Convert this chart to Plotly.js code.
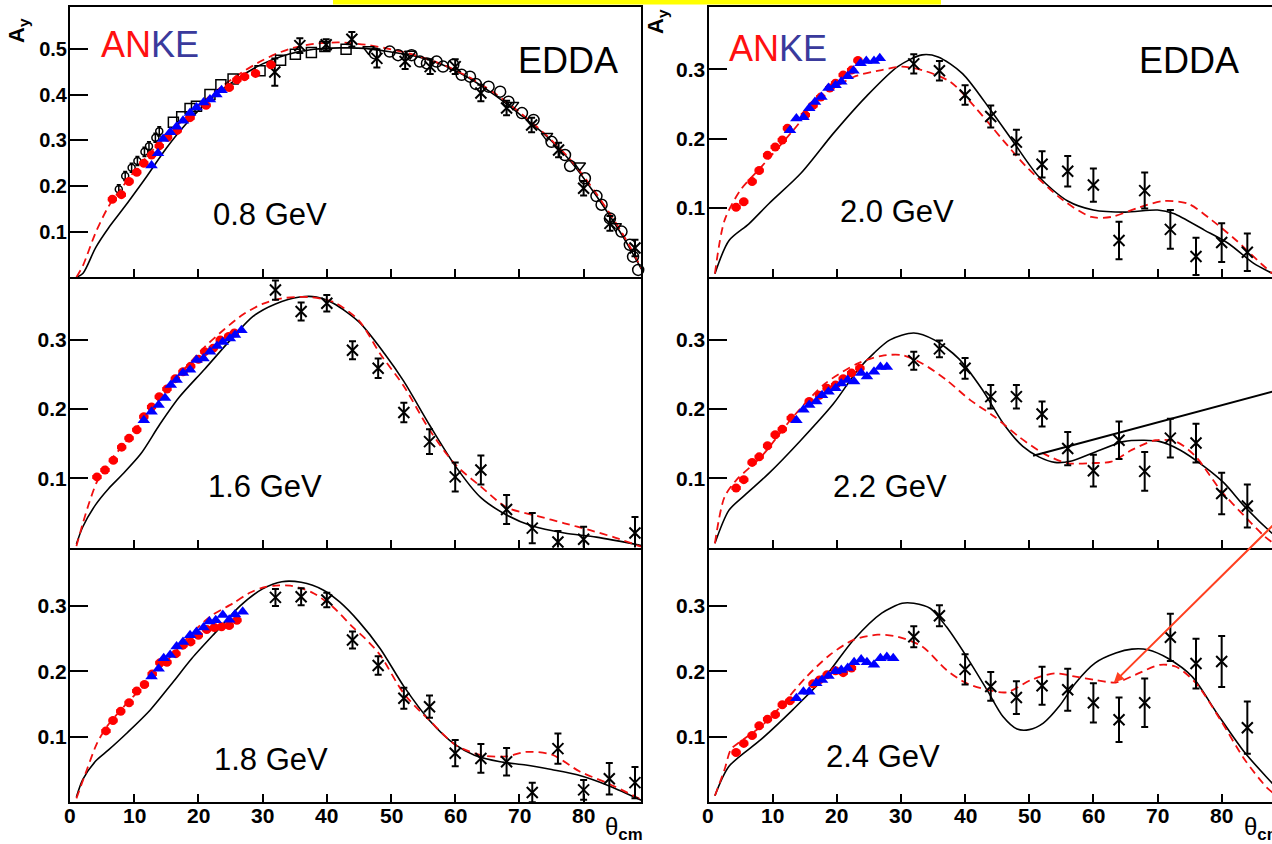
<!DOCTYPE html>
<html>
<head>
<meta charset="utf-8">
<script src="https://cdn.plot.ly/plotly-3.0.1.min.js"></script>
<style>
html, body { margin: 0; padding: 0; overflow: hidden; background: #fff; }
#chart { width: 1290px; height: 844px; }
</style>
</head>
<body>
<div id="chart"></div>
<script>
// ===== 0.8 GeV =====
const th08Solid = [1, 2, 4, 6, 8, 10, 12, 15, 18, 22, 26, 30, 34, 38, 42, 46, 50, 54, 58, 62, 66, 70, 74, 78, 82, 86, 89];
const ay08Solid = [0, 0.008, 0.065, 0.108, 0.145, 0.183, 0.222, 0.283, 0.335, 0.392, 0.435, 0.468, 0.489, 0.5, 0.503, 0.502, 0.494, 0.484, 0.466, 0.438, 0.401, 0.358, 0.312, 0.254, 0.178, 0.092, 0.018];
const th08Dash = [1, 2, 4, 6, 8, 10, 12, 15, 18, 22, 26, 30, 34, 38, 42, 46, 50, 54, 58, 62, 66, 70, 74, 78, 82, 86, 89];
const ay08Dash = [0, 0.025, 0.098, 0.155, 0.195, 0.232, 0.265, 0.31, 0.35, 0.4, 0.442, 0.476, 0.5, 0.512, 0.515, 0.51, 0.5, 0.486, 0.467, 0.44, 0.405, 0.362, 0.314, 0.257, 0.183, 0.097, 0.02];
const th08Red = [6.6, 8.0, 9.2, 10.4, 11.5, 12.7, 13.9, 15.2, 16.7, 18.7, 21.2, 24.8, 26.0, 27.2, 28.9, 31.3];
const ay08Red = [0.171, 0.181, 0.21, 0.23, 0.25, 0.268, 0.288, 0.307, 0.322, 0.35, 0.377, 0.416, 0.433, 0.44, 0.447, 0.466];
const th08Blue = [12.7, 13.7, 14.5, 15.6, 16.6, 17.6, 18.7, 19.7, 20.8, 21.8, 22.8, 23.6];
const ay08Blue = [0.245, 0.272, 0.303, 0.318, 0.33, 0.343, 0.36, 0.372, 0.383, 0.39, 0.401, 0.41];
const th08Edda = [31.9, 35.8, 39.9, 43.9, 47.8, 52.2, 56.1, 60.0, 64.0, 68.0, 71.9, 76.1, 80.0, 84.1, 88.0];
const ay08Edda = [0.45, 0.508, 0.51, 0.522, 0.48, 0.473, 0.462, 0.462, 0.404, 0.371, 0.334, 0.279, 0.195, 0.118, 0.064];
const er08Edda = [0.03, 0.016, 0.012, 0.016, 0.02, 0.016, 0.016, 0.016, 0.018, 0.016, 0.016, 0.016, 0.016, 0.016, 0.018];
const th08Sq = [16.1, 17.4, 18.7, 19.7, 21.8, 23.5, 25.4, 29.6, 32.8, 35.1, 37.6, 39.7, 43.0];
const ay08Sq = [0.34, 0.352, 0.37, 0.375, 0.401, 0.422, 0.435, 0.453, 0.476, 0.489, 0.493, 0.506, 0.5];
const th08Circ = [47.5, 49.8, 51.1, 53.2, 54.5, 55.6, 57.1, 58.1, 59.7, 61.0, 62.3, 63.2, 65.2, 67.0, 68.3, 70.4, 72.2, 75.0, 77.1, 77.9, 80.2, 82.0, 82.8, 84.1, 85.9, 87.2, 87.7, 88.5];
const ay08Circ = [0.491, 0.495, 0.487, 0.487, 0.473, 0.469, 0.473, 0.462, 0.466, 0.444, 0.44, 0.424, 0.418, 0.407, 0.385, 0.36, 0.345, 0.297, 0.268, 0.244, 0.217, 0.178, 0.159, 0.129, 0.1, 0.071, 0.045, 0.016];
const th08Small = [7.6, 8.6, 9.6, 10.5, 11.6, 12.3, 13.3, 13.9];
const ay08Small = [0.193, 0.222, 0.24, 0.255, 0.275, 0.287, 0.306, 0.32];
const th08Tri = [46.5, 53.0, 69.0, 74.3, 79.4, 85.0];
const ay08Tri = [0.5, 0.49, 0.378, 0.31, 0.245, 0.112];

// ===== 1.6 GeV =====
const th16Solid = [1, 2, 4, 6, 8, 11, 14, 17, 21, 25, 28.5, 32, 35.8, 38.4, 41, 45, 49, 52, 56, 60, 64, 68, 72, 77, 82, 89];
const ay16Solid = [0.005, 0.03, 0.062, 0.085, 0.104, 0.135, 0.178, 0.217, 0.258, 0.3, 0.334, 0.352, 0.362, 0.362, 0.353, 0.326, 0.28, 0.24, 0.177, 0.118, 0.072, 0.047, 0.031, 0.021, 0.015, 0.003];
const th16Dash = [1, 2, 3, 4.2, 6, 8, 10, 12, 15, 18, 21, 24, 27, 30, 33, 37, 41, 45, 48.3, 52, 56, 60, 64, 68, 73, 77, 81, 85, 89];
const ay16Dash = [0.002, 0.035, 0.065, 0.095, 0.122, 0.145, 0.168, 0.193, 0.228, 0.26, 0.29, 0.315, 0.337, 0.352, 0.36, 0.362, 0.355, 0.328, 0.28, 0.233, 0.17, 0.12, 0.088, 0.058, 0.045, 0.035, 0.025, 0.014, 0.001];
const th16Red = [4.2, 5.45, 6.75, 8.05, 9.2, 10.4, 11.5, 12.7, 13.9, 15.1, 16.4, 17.6, 18.8, 20.0, 21.0, 22.3, 23.4, 24.7, 25.6];
const ay16Red = [0.102, 0.112, 0.126, 0.145, 0.158, 0.17, 0.189, 0.203, 0.218, 0.229, 0.244, 0.254, 0.262, 0.272, 0.283, 0.288, 0.3, 0.305, 0.31];
const th16Blue = [11.5, 12.7, 13.8, 14.8, 15.7, 16.6, 17.6, 18.7, 19.7, 20.8, 21.8, 22.9, 23.8, 24.9, 25.7, 26.7];
const ay16Blue = [0.184, 0.196, 0.206, 0.216, 0.235, 0.242, 0.252, 0.257, 0.271, 0.273, 0.283, 0.291, 0.297, 0.302, 0.307, 0.314];
const th16Edda = [32, 36, 40, 44, 48, 52, 56, 60, 64, 68, 72, 76, 80, 88];
const ay16Edda = [0.372, 0.341, 0.353, 0.285, 0.259, 0.195, 0.153, 0.102, 0.112, 0.055, 0.028, 0.008, 0.012, 0.021];
const er16Edda = [0.014, 0.013, 0.012, 0.013, 0.014, 0.014, 0.018, 0.021, 0.021, 0.021, 0.022, 0.016, 0.018, 0.023];

// ===== 1.8 GeV =====
const th18Solid = [1, 2, 4, 6, 9, 12.5, 16, 19, 23, 26.5, 30, 33, 36, 39.5, 42, 45, 48.3, 52, 56, 60, 63, 67, 71, 75, 79, 84, 89];
const ay18Solid = [0.008, 0.035, 0.063, 0.08, 0.107, 0.141, 0.183, 0.22, 0.263, 0.3, 0.326, 0.337, 0.336, 0.324, 0.306, 0.276, 0.235, 0.177, 0.125, 0.088, 0.072, 0.062, 0.057, 0.05, 0.042, 0.025, 0.003];
const th18Dash = [1, 2.6, 4.2, 5.7, 8, 10, 12, 14, 16, 18, 20, 22, 25.4, 28, 30, 32, 34.3, 36, 38, 41, 44, 46, 48.3, 52, 56, 60, 64, 68, 71, 75, 79.4, 84, 89];
const ay18Dash = [0.006, 0.049, 0.09, 0.115, 0.142, 0.163, 0.183, 0.205, 0.226, 0.248, 0.268, 0.285, 0.304, 0.32, 0.328, 0.331, 0.331, 0.327, 0.319, 0.298, 0.268, 0.25, 0.225, 0.166, 0.125, 0.088, 0.072, 0.07, 0.077, 0.073, 0.047, 0.028, 0.004];
const th18Red = [5.6, 6.7, 7.9, 9.2, 10.4, 11.6, 12.8, 14.0, 15.1, 16.5, 17.6, 18.8, 20.0, 21.3, 22.5, 23.6, 24.8, 26.0];
const ay18Red = [0.109, 0.125, 0.139, 0.152, 0.17, 0.18, 0.196, 0.213, 0.214, 0.227, 0.24, 0.245, 0.255, 0.264, 0.267, 0.268, 0.27, 0.278];
const th18Blue = [12.7, 13.8, 14.6, 15.6, 16.6, 17.6, 18.7, 19.7, 20.8, 21.7, 22.7, 23.8, 24.8, 25.7, 26.9];
const ay18Blue = [0.192, 0.204, 0.22, 0.225, 0.238, 0.245, 0.255, 0.26, 0.267, 0.276, 0.278, 0.286, 0.279, 0.287, 0.291];
const th18Edda = [32, 36, 40, 44, 48, 52, 56, 60, 64, 68, 72, 76, 80, 84, 88];
const ay18Edda = [0.313, 0.314, 0.309, 0.248, 0.209, 0.159, 0.146, 0.075, 0.067, 0.062, 0.015, 0.082, 0.019, 0.036, 0.03];
const er18Edda = [0.013, 0.013, 0.011, 0.013, 0.014, 0.016, 0.017, 0.02, 0.022, 0.021, 0.015, 0.023, 0.015, 0.024, 0.024];

// ===== 2.0 GeV =====
const th20Solid = [1, 3.2, 6.3, 9.4, 14.4, 19.5, 24.5, 29.5, 33.3, 35.8, 39.6, 44, 47.7, 51.5, 56, 60, 65, 70, 72.5, 77.3, 81, 85, 88, 89];
const ay20Solid = [0.005, 0.053, 0.077, 0.106, 0.15, 0.208, 0.26, 0.304, 0.321, 0.318, 0.294, 0.241, 0.193, 0.145, 0.11, 0.097, 0.094, 0.097, 0.092, 0.068, 0.049, 0.02, 0.005, 0.0];
const th20Dash = [1, 2.5, 5, 8.2, 13.2, 17.6, 22.6, 27, 30.2, 33.3, 37.7, 41.5, 45.9, 49.6, 55.3, 59.7, 62.8, 67.2, 71, 74.8, 78.5, 82.3, 86.1, 88, 89];
const ay20Dash = [0.005, 0.082, 0.126, 0.159, 0.212, 0.26, 0.289, 0.299, 0.304, 0.299, 0.282, 0.246, 0.198, 0.159, 0.111, 0.087, 0.087, 0.101, 0.11, 0.106, 0.082, 0.053, 0.02, 0.005, 0];
const th20Red = [4.3, 5.5, 6.8, 7.9, 9.2, 10.4, 11.5, 12.3, 15.1, 16.3, 17.5, 18.9, 19.8, 21.0, 22.3, 23.3];
const ay20Red = [0.101, 0.109, 0.138, 0.154, 0.176, 0.188, 0.198, 0.215, 0.234, 0.248, 0.26, 0.273, 0.28, 0.292, 0.299, 0.313];
const th20Blue = [12.7, 13.7, 14.8, 15.7, 16.6, 17.6, 18.7, 19.8, 20.7, 21.7, 22.6, 23.7, 24.6, 25.8, 26.7];
const ay20Blue = [0.212, 0.229, 0.231, 0.244, 0.253, 0.26, 0.273, 0.277, 0.282, 0.29, 0.298, 0.309, 0.312, 0.312, 0.316];
const th20Edda = [32, 36, 40, 44, 48, 52, 56, 60, 64, 68, 72, 76, 80, 84];
const ay20Edda = [0.308, 0.298, 0.263, 0.232, 0.195, 0.163, 0.153, 0.133, 0.053, 0.125, 0.069, 0.03, 0.05, 0.036];
const er20Edda = [0.014, 0.014, 0.014, 0.016, 0.018, 0.019, 0.022, 0.024, 0.027, 0.026, 0.028, 0.027, 0.028, 0.027];

// ===== 2.2 GeV =====
const th22Solid = [1, 3.2, 5.7, 9.4, 14.4, 19.5, 23.3, 25.8, 28.3, 32, 35.2, 39, 42.7, 45.9, 49, 51.5, 54, 56.6, 60.3, 64.7, 67.9, 70.4, 73.5, 77.3, 80.4, 83.6, 87.8, 89];
const ay22Solid = [0.006, 0.054, 0.076, 0.107, 0.155, 0.208, 0.257, 0.281, 0.3, 0.31, 0.3, 0.273, 0.228, 0.18, 0.146, 0.131, 0.123, 0.125, 0.138, 0.153, 0.155, 0.153, 0.141, 0.117, 0.093, 0.059, 0.021, 0.012];
const th22Dash = [1, 2.5, 4.4, 8.2, 13.2, 18.2, 23.3, 27, 30.2, 33.3, 37.1, 40.8, 44.6, 48.4, 52.2, 55.9, 59.7, 62.8, 66, 69.7, 72.9, 76, 79.8, 83.6, 86.7, 89];
const ay22Dash = [0.006, 0.073, 0.098, 0.131, 0.189, 0.237, 0.266, 0.277, 0.278, 0.266, 0.242, 0.213, 0.189, 0.16, 0.136, 0.122, 0.122, 0.124, 0.141, 0.155, 0.153, 0.131, 0.083, 0.045, 0.016, 0.0];
const th22Red = [4.3, 5.5, 6.8, 7.9, 9.2, 10.4, 11.5, 12.9, 15.7, 17.3, 18.5, 19.8, 21.0, 22.3, 23.6];
const ay22Red = [0.086, 0.098, 0.123, 0.131, 0.147, 0.163, 0.171, 0.187, 0.211, 0.22, 0.23, 0.235, 0.244, 0.252, 0.259];
const th22Blue = [13.7, 14.8, 15.7, 16.8, 17.7, 18.7, 19.8, 20.7, 21.7, 22.7, 23.8, 24.7, 25.8, 26.8, 27.8];
const ay22Blue = [0.184, 0.199, 0.206, 0.211, 0.22, 0.225, 0.23, 0.237, 0.242, 0.24, 0.252, 0.247, 0.254, 0.261, 0.261];
const th22Edda = [32, 36, 40, 44, 48, 52, 56, 60, 64, 68, 72, 76, 80, 84];
const ay22Edda = [0.27, 0.287, 0.259, 0.218, 0.218, 0.193, 0.143, 0.111, 0.155, 0.11, 0.158, 0.151, 0.078, 0.06];
const er22Edda = [0.013, 0.012, 0.015, 0.017, 0.017, 0.018, 0.024, 0.023, 0.027, 0.028, 0.028, 0.028, 0.03, 0.031];
// straight reference line drawn across the 2.2 GeV panel
const th22Line = [50.6, 89];
const ay22Line = [0.1327, 0.228];

// ===== 2.4 GeV =====
const th24Solid = [1, 3.2, 8.2, 13.2, 18.2, 22.6, 27, 30.2, 32, 34.6, 37.1, 40.2, 43.4, 45.9, 48.1, 50, 52.2, 54.7, 57.2, 60.3, 63.5, 66, 68.5, 71.6, 75.4, 79.2, 83.6, 87.8, 89];
const ay24Solid = [0.01, 0.055, 0.096, 0.142, 0.192, 0.248, 0.289, 0.304, 0.304, 0.296, 0.268, 0.223, 0.172, 0.131, 0.112, 0.111, 0.121, 0.147, 0.182, 0.213, 0.228, 0.234, 0.233, 0.22, 0.192, 0.137, 0.076, 0.03, 0.017];
const th24Dash = [1, 2.5, 3.5, 4.7, 8.2, 11.3, 15.1, 18.9, 22.6, 26.4, 29.5, 33.3, 37.1, 40.2, 43.4, 46.5, 50.3, 54, 57.2, 60.3, 63.5, 66.6, 70.4, 72.9, 76, 79.8, 83.6, 87.3, 89];
const ay24Dash = [0.01, 0.05, 0.081, 0.091, 0.116, 0.147, 0.19, 0.225, 0.248, 0.256, 0.253, 0.238, 0.202, 0.182, 0.172, 0.168, 0.187, 0.197, 0.192, 0.187, 0.183, 0.195, 0.21, 0.207, 0.182, 0.126, 0.065, 0.02, 0.008];
const th24Red = [4.3, 5.5, 6.8, 7.9, 9.2, 10.4, 11.5, 12.7, 16.3, 17.3, 18.5, 19.8, 21.0, 22.3];
const ay24Red = [0.076, 0.09, 0.102, 0.117, 0.127, 0.134, 0.149, 0.155, 0.181, 0.187, 0.195, 0.201, 0.198, 0.205];
const th24Blue = [13.7, 14.8, 15.7, 16.8, 17.7, 18.7, 19.8, 20.7, 21.7, 22.7, 23.8, 24.7, 25.8, 26.8, 27.8, 28.8];
const ay24Blue = [0.159, 0.169, 0.169, 0.182, 0.187, 0.193, 0.2, 0.202, 0.205, 0.214, 0.218, 0.214, 0.21, 0.22, 0.222, 0.22];
const th24Edda = [32, 36, 40, 44, 48, 52, 56, 60, 64, 68, 72, 76, 80, 84];
const ay24Edda = [0.253, 0.285, 0.203, 0.177, 0.16, 0.178, 0.172, 0.152, 0.126, 0.152, 0.252, 0.212, 0.215, 0.114];
const er24Edda = [0.016, 0.016, 0.023, 0.022, 0.025, 0.029, 0.032, 0.03, 0.034, 0.037, 0.036, 0.038, 0.039, 0.04];

// tick labels
const xTickVals = [0, 10, 20, 30, 40, 50, 60, 70, 80];
const xTickText = ['0', '10', '20', '30', '40', '50', '60', '70', '80'];
const yTickValsTop = [0.1, 0.2, 0.3, 0.4, 0.5];
const yTickTextTop = ['0.1', '0.2', '0.3', '0.4', '0.5'];
const yTickVals = [0.1, 0.2, 0.3];
const yTickText = ['0.1', '0.2', '0.3'];
const energies = ['0.8 GeV', '2.0 GeV', '1.6 GeV', '2.2 GeV', '1.8 GeV', '2.4 GeV'];

// ---------- page geometry (pixels) ----------
const W = 1290, H = 844;
const FONT = 'Liberation Sans, Arial, Helvetica, sans-serif';
const colX = [[70, 641.4], [708.5, 1279.4]];
const rowY = [[6.7, 277.2], [277.2, 547.5], [547.5, 802.3]];
const yMax = [[0.5934, 0.3905], [0.3906, 0.3906], [0.3892, 0.3892]];
const px = v => v / W;
const py = v => 1 - v / H;

const RED = '#ff0000', BLUE = '#0000ff', DASHRED = '#f01010';

const panels = [
  { s: th08Solid, sy: ay08Solid, d: th08Dash, dy: ay08Dash, r: th08Red, ry: ay08Red, b: th08Blue, by: ay08Blue, e: th08Edda, ey: ay08Edda, ee: er08Edda },
  { s: th20Solid, sy: ay20Solid, d: th20Dash, dy: ay20Dash, r: th20Red, ry: ay20Red, b: th20Blue, by: ay20Blue, e: th20Edda, ey: ay20Edda, ee: er20Edda },
  { s: th16Solid, sy: ay16Solid, d: th16Dash, dy: ay16Dash, r: th16Red, ry: ay16Red, b: th16Blue, by: ay16Blue, e: th16Edda, ey: ay16Edda, ee: er16Edda },
  { s: th22Solid, sy: ay22Solid, d: th22Dash, dy: ay22Dash, r: th22Red, ry: ay22Red, b: th22Blue, by: ay22Blue, e: th22Edda, ey: ay22Edda, ee: er22Edda },
  { s: th18Solid, sy: ay18Solid, d: th18Dash, dy: ay18Dash, r: th18Red, ry: ay18Red, b: th18Blue, by: ay18Blue, e: th18Edda, ey: ay18Edda, ee: er18Edda },
  { s: th24Solid, sy: ay24Solid, d: th24Dash, dy: ay24Dash, r: th24Red, ry: ay24Red, b: th24Blue, by: ay24Blue, e: th24Edda, ey: ay24Edda, ee: er24Edda }
];

const traces = [];
const layout = {
  width: W, height: H,
  margin: { l: 0, r: 0, t: 0, b: 0 },
  paper_bgcolor: '#fff', plot_bgcolor: '#fff',
  showlegend: false,
  font: { family: FONT, color: '#000' },
  annotations: [],
  shapes: [
    // yellow strip along the top edge
    { type: 'rect', xref: 'paper', yref: 'paper', x0: px(333), x1: px(941), y0: py(4.5), y1: 1,
      fillcolor: '#ffff00', line: { width: 0 }, layer: 'above' }
  ]
};

panels.forEach((p, i) => {
  const row = Math.floor(i / 2), col = i % 2;
  const n = i + 1;
  const xa = n === 1 ? 'x' : 'x' + n;
  const ya = n === 1 ? 'y' : 'y' + n;
  const isTopLeft = i === 0;

  layout[n === 1 ? 'xaxis' : 'xaxis' + n] = {
    domain: [px(colX[col][0]), px(colX[col][1])],
    anchor: ya, range: [0, 89],
    // the lower panels share their top edge with the panel above
    showline: true, mirror: row === 0, linecolor: '#000', linewidth: 2,
    ticks: 'inside', ticklen: 8, tickwidth: 2, tickcolor: '#000',
    tickvals: xTickVals, showticklabels: false,
    showgrid: false, zeroline: false, fixedrange: true
  };
  layout[n === 1 ? 'yaxis' : 'yaxis' + n] = {
    domain: [py(rowY[row][1]), py(rowY[row][0])],
    anchor: xa, range: [0, yMax[row][col]],
    showline: true, mirror: true, linecolor: '#000', linewidth: 2,
    ticks: 'inside', ticklen: 18, tickwidth: 2, tickcolor: '#000',
    tickvals: isTopLeft ? yTickValsTop : yTickVals,
    ticktext: isTopLeft ? yTickTextTop : yTickText,
    ticklabelstandoff: -3,
    tickfont: { family: FONT, size: isTopLeft ? 20 : 21, color: '#000', weight: 'bold' },
    showgrid: false, zeroline: false, fixedrange: true
  };

  // angle labels under the bottom row, placed through the panel's own x scale
  if (row === 2) {
    xTickVals.forEach((v, k) => layout.annotations.push({
      xref: xa, yref: 'paper', x: v, y: py(815.5), xanchor: 'center', yanchor: 'middle',
      showarrow: false, text: '<b>' + xTickText[k] + '</b>',
      font: { family: FONT, size: 21, color: '#000' } }));
  }

  // model curves
  traces.push({ x: p.s, y: p.sy, xaxis: xa, yaxis: ya, type: 'scatter', mode: 'lines',
    line: { color: '#000', width: 1.6, shape: 'spline', smoothing: 0.8 }, hoverinfo: 'skip' });
  traces.push({ x: p.d, y: p.dy, xaxis: xa, yaxis: ya, type: 'scatter', mode: 'lines',
    line: { color: DASHRED, width: 1.8, dash: '8px,5px', shape: 'spline', smoothing: 0.8 }, hoverinfo: 'skip' });

  if (isTopLeft) {
    // additional EDDA data sets at 0.8 GeV
    traces.push({ x: th08Sq, y: ay08Sq, xaxis: xa, yaxis: ya, type: 'scatter', mode: 'markers', cliponaxis: false,
      marker: { symbol: 'square-open', size: 10, color: '#000', line: { width: 1.5, color: '#000' } } });
    traces.push({ x: th08Circ, y: ay08Circ, xaxis: xa, yaxis: ya, type: 'scatter', mode: 'markers', cliponaxis: false,
      marker: { symbol: 'circle-open', size: 11, color: '#000', line: { width: 1.5, color: '#000' } } });
    traces.push({ x: th08Tri, y: ay08Tri, xaxis: xa, yaxis: ya, type: 'scatter', mode: 'markers', cliponaxis: false,
      marker: { symbol: 'triangle-down-open', size: 10, color: '#000', line: { width: 1.5, color: '#000' } } });
    traces.push({ x: th08Small, y: ay08Small, xaxis: xa, yaxis: ya, type: 'scatter', mode: 'markers', cliponaxis: false,
      marker: { symbol: 'circle-open', size: 7, color: '#000', line: { width: 1.5, color: '#000' } },
      error_y: { type: 'constant', value: 0.01, color: '#000', thickness: 1.5, width: 2 } });
  }

  // EDDA
  traces.push({ x: p.e, y: p.ey, xaxis: xa, yaxis: ya, type: 'scatter', mode: 'markers', cliponaxis: false,
    marker: { symbol: 'x-thin-open', size: 11, color: '#000', line: { width: 2, color: '#000' } },
    error_y: { type: 'data', array: p.ee, color: '#000', thickness: 2, width: 3.5 } });

  // ANKE
  traces.push({ x: p.r, y: p.ry, xaxis: xa, yaxis: ya, type: 'scatter', mode: 'markers', cliponaxis: false,
    marker: { symbol: 'circle', size: 9, color: RED },
    error_x: { type: 'constant', value: 0.6, color: RED, thickness: 1.5, width: 2 },
    error_y: { type: 'constant', value: 0.004, color: RED, thickness: 1.5, width: 0 } });
  traces.push({ x: p.b, y: p.by, xaxis: xa, yaxis: ya, type: 'scatter', mode: 'markers', cliponaxis: false,
    marker: { symbol: 'triangle-up', size: 11, color: BLUE } });

  if (i === 3) {
    traces.push({ x: th22Line, y: ay22Line, xaxis: xa, yaxis: ya, type: 'scatter', mode: 'lines',
      line: { color: '#000', width: 2 }, hoverinfo: 'skip' });
  }

  // energy label
  const ex = [270, 897, 264.5, 889.5, 270.5, 883][i];
  const ey = [214, 211.5, 486.5, 486.5, 759, 756.5][i];
  layout.annotations.push({ xref: 'paper', yref: 'paper', x: px(ex), y: py(ey),
    xanchor: 'center', yanchor: 'middle', showarrow: false, text: energies[i],
    font: { family: FONT, size: 31, color: '#000' } });
});

// experiment labels and axis titles
[[149.5, 44.5], [778, 48.5]].forEach(([x, y]) => layout.annotations.push({
  xref: 'paper', yref: 'paper', x: px(x), y: py(y), xanchor: 'center', yanchor: 'middle', showarrow: false,
  text: '<span style="color:#ff1010">AN</span><span style="color:#3a3a9c">KE</span>',
  font: { family: FONT, size: 36 } }));
[[567.5, 60.5], [1188.5, 60.5]].forEach(([x, y]) => layout.annotations.push({
  xref: 'paper', yref: 'paper', x: px(x), y: py(y), xanchor: 'center', yanchor: 'middle', showarrow: false,
  text: 'EDDA', font: { family: FONT, size: 36, color: '#000' } }));
[[18, 31], [657, 22]].forEach(([x, y]) => layout.annotations.push({
  xref: 'paper', yref: 'paper', x: px(x), y: py(y), xanchor: 'center', yanchor: 'middle', showarrow: false,
  textangle: -90, text: '<b>A<sub>y</sub></b>', font: { family: FONT, size: 22, color: '#000' } }));
[[603, 828], [1242, 828]].forEach(([x, y]) => layout.annotations.push({
  xref: 'paper', yref: 'paper', x: px(x), y: py(y), xanchor: 'left', yanchor: 'middle', showarrow: false,
  text: 'θ<sub><b>cm</b></sub>', font: { family: FONT, size: 24, color: '#000' } }));

// arrow pointing at the dip of the dashed curve at 2.4 GeV
layout.annotations.push({ xref: 'x6', yref: 'y6', x: 63.2, y: 0.183, ax: 190, ay: -174,
  showarrow: true, text: '', arrowcolor: '#ff4020', arrowwidth: 2, arrowhead: 2, arrowsize: 1 });

Plotly.newPlot('chart', traces, layout, { staticPlot: true, displayModeBar: false });
</script>
</body>
</html>
